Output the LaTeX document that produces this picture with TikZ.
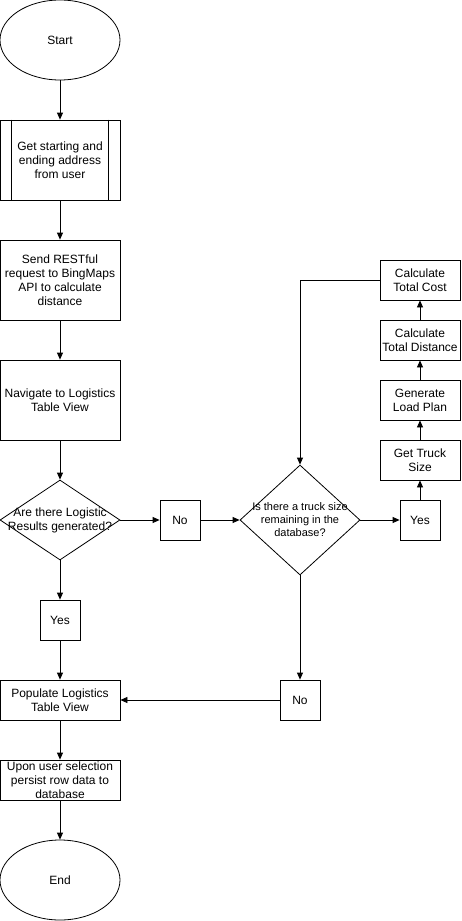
\documentclass[tikz,border=0pt]{standalone}
\usepackage{fontspec}
\setmainfont{Liberation Sans}
\usetikzlibrary{shapes.geometric,arrows.meta}
\begin{document}
\begin{tikzpicture}[x=1pt,y=-1pt,
  every node/.style={font=\fontsize{12}{14}\selectfont},
  box/.style={draw,rectangle,minimum width=#1,minimum height=40,inner sep=0,align=center},
  box/.default=120,
  tall/.style={draw,rectangle,minimum width=120,minimum height=80,inner sep=0,align=center},
  oval/.style={draw,ellipse,minimum width=120,minimum height=80,inner sep=0},
  dia/.style={draw,diamond,inner sep=0},
  arr/.style={-{Triangle[length=7pt,width=6pt]},line width=0.8pt},
  line width=0.8pt]
\useasboundingbox (0,0) rectangle (461,921);
\node[oval] (start) at (60,40) {Start};
\node[tall] (get) at (60,160) {Get starting and\\ending address\\from user};
\draw ([xshift=12]get.north west) -- ([xshift=12]get.south west);
\draw ([xshift=-12]get.north east) -- ([xshift=-12]get.south east);
\node[tall] (send) at (60,280) {Send RESTful\\request to BingMaps\\API to calculate\\distance};
\node[tall] (nav) at (60,400) {Navigate to Logistics\\Table View};
\node[dia,minimum width=120,minimum height=80] (d1) at (60,520) {};
\node[align=center] (d1t) at (60,520) {Are there Logistic\\Results generated?};
\node[box=40] (no1) at (180,520) {No};
\node[dia,minimum width=120,minimum height=110] (d2) at (300,520) {};
\node[align=center,font=\fontsize{11}{13}\selectfont] (d2t) at (300,520) {Is there a truck size\\remaining in the\\database?};
\node[box=40] (yes2) at (420,520) {Yes};
\node[box=80] (truck) at (420,460) {Get Truck\\Size};
\node[box=80] (load) at (420,400) {Generate\\Load Plan};
\node[box=80] (dist) at (420,340) {Calculate\\Total Distance};
\node[box=80] (cost) at (420,280) {Calculate\\Total Cost};
\node[box=40] (yes1) at (60,620) {Yes};
\node[box] (pop) at (60,700) {Populate Logistics\\Table View};
\node[box=40] (no2) at (300,700) {No};
\node[box] (upon) at (60,780) {Upon user selection\\persist row data to\\database};
\node[oval] (end) at (60,880) {End};
\draw[arr] (start) -- (get);
\draw[arr] (get) -- (send);
\draw[arr] (send) -- (nav);
\draw[arr] (nav) -- (d1.north);
\draw[arr] (d1.east) -- (no1);
\draw[arr] (no1) -- (d2.west);
\draw[arr] (d2.east) -- (yes2);
\draw[arr] (yes2) -- (truck);
\draw[arr] (truck) -- (load);
\draw[arr] (load) -- (dist);
\draw[arr] (dist) -- (cost);
\draw[arr] (cost.west) -| (d2.north);
\draw[arr] (d2.south) -- (no2);
\draw[arr] (no2) -- (pop);
\draw[arr] (d1.south) -- (yes1);
\draw[arr] (yes1) -- (pop);
\draw[arr] (pop) -- (upon);
\draw[arr] (upon) -- (end);
\end{tikzpicture}
\end{document}
